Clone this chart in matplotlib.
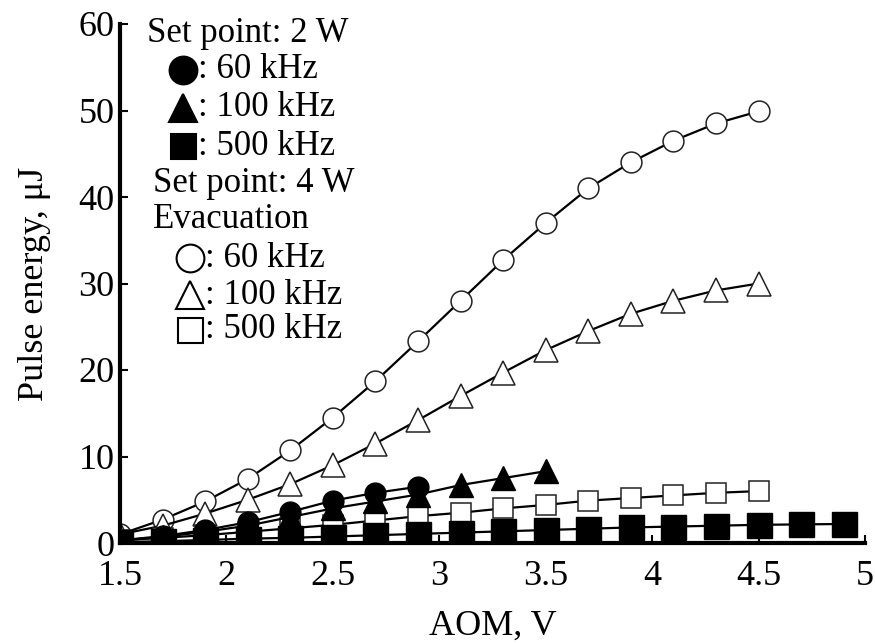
import matplotlib
matplotlib.use("Agg")
import matplotlib.pyplot as plt

plt.rcParams['font.family'] = ['Liberation Serif', 'DejaVu Serif']

# AOM voltage steps
aom = [1.5, 1.7, 1.9, 2.1, 2.3, 2.5, 2.7, 2.9, 3.1, 3.3, 3.5, 3.7, 3.9, 4.1, 4.3, 4.5, 4.7, 4.9]

# set point 4 W, evacuation (open markers)
e60 = [1.0, 2.7, 4.8, 7.4, 10.7, 14.5, 18.7, 23.3, 28.0, 32.7, 37.0, 41.0, 44.0, 46.5, 48.5, 49.9]
e100 = [1.0, 2.0, 3.4, 5.0, 6.8, 9.0, 11.5, 14.2, 17.0, 19.7, 22.3, 24.5, 26.5, 28.0, 29.2, 30.0]
e500 = [0.3, 0.6, 0.9, 1.3, 1.7, 2.1, 2.6, 3.1, 3.5, 4.0, 4.4, 4.9, 5.2, 5.5, 5.8, 6.0]

# set point 2 W (filled markers)
s60 = [0.3, 0.8, 1.5, 2.4, 3.6, 4.9, 5.8, 6.5]
s100 = [0.3, 0.7, 1.3, 2.0, 3.0, 4.0, 4.8, 5.6, 6.7, 7.5, 8.3]
s500 = [0.1, 0.2, 0.35, 0.5, 0.6, 0.75, 0.9, 1.05, 1.2, 1.35, 1.5, 1.65, 1.8, 1.9, 2.0, 2.1, 2.15, 2.2]

xticks = [1.5, 2, 2.5, 3, 3.5, 4, 4.5, 5]
xtick_labels = ["1.5", "2", "2.5", "3", "3.5", "4", "4.5", "5"]
yticks = [0, 10, 20, 30, 40, 50, 60]
ytick_labels = ["0", "10", "20", "30", "40", "50", "60"]

W, H = 875, 643
fig = plt.figure(figsize=(W / 100, H / 100), dpi=100)
ax = fig.add_axes([120 / W, 1 - 543 / H, 745 / W, 519 / H])

line_kw = dict(color='black', lw=1.6)
ax.plot(aom[:len(e60)], e60, marker='o', ms=15, mfc='white', mec='#222222', mew=1.1, **line_kw)
ax.plot(aom[:len(e100)], e100, marker='^', ms=17, mfc='white', mec='#222222', mew=1.1, **line_kw)
ax.plot(aom[:len(e500)], e500, marker='s', ms=15, mfc='white', mec='#222222', mew=1.1, **line_kw)
ax.plot(aom[:len(s100)], s100, marker='^', ms=17, mfc='black', mec='black', **line_kw)
ax.plot(aom[:len(s60)], s60, marker='o', ms=15, mfc='black', mec='black', **line_kw)
ax.plot(aom[:len(s500)], s500, marker='s', ms=18, mfc='black', mec='black', **line_kw)

ax.set_xlim(1.5, 5)
ax.set_ylim(0, 60)
ax.set_xticks(xticks)
ax.set_xticklabels(xtick_labels)
ax.set_yticks(yticks)
ax.set_yticklabels(ytick_labels)
for s in ['top', 'right']:
    ax.spines[s].set_visible(False)
for s in ['left', 'bottom']:
    ax.spines[s].set_linewidth(3)
ax.tick_params(direction='in', length=6, width=1.5, labelsize=26)
ax.tick_params(axis='x', pad=12)
ax.tick_params(axis='y', pad=4)
ax.set_xlabel("AOM, V", fontsize=26, labelpad=12)
ax.set_ylabel("Pulse energy, μJ", fontsize=26, labelpad=20)


def fx(px):
    return px / W


def fy(py):
    return 1 - py / H


# hand-made legend
fs = 25
fig.text(fx(147), fy(33), "Set point: 2 W", fontsize=fs, va='center')
fig.text(fx(153), fy(183), "Set point: 4 W", fontsize=fs, va='center')
fig.text(fx(153), fy(220), "Evacuation", fontsize=fs, va='center')
entries = [
    (183, 70, 'o', 'black', ": 60 kHz"),
    (183, 108, '^', 'black', ": 100 kHz"),
    (183, 146, 's', 'black', ": 500 kHz"),
    (190, 258, 'o', 'white', ": 60 kHz"),
    (190, 295, '^', 'white', ": 100 kHz"),
    (190, 330, 's', 'white', ": 500 kHz"),
]
for px, py, m, fc, label in entries:
    ax.plot([fx(px)], [fy(py)], marker=m, ms=20 if m != 's' else 18, mfc=fc, mec='black',
            mew=1.5, transform=fig.transFigure, clip_on=False)
    fig.text(fx(px + 15), fy(py), label, fontsize=fs, va='center')

fig.savefig("out.png", dpi=100)
